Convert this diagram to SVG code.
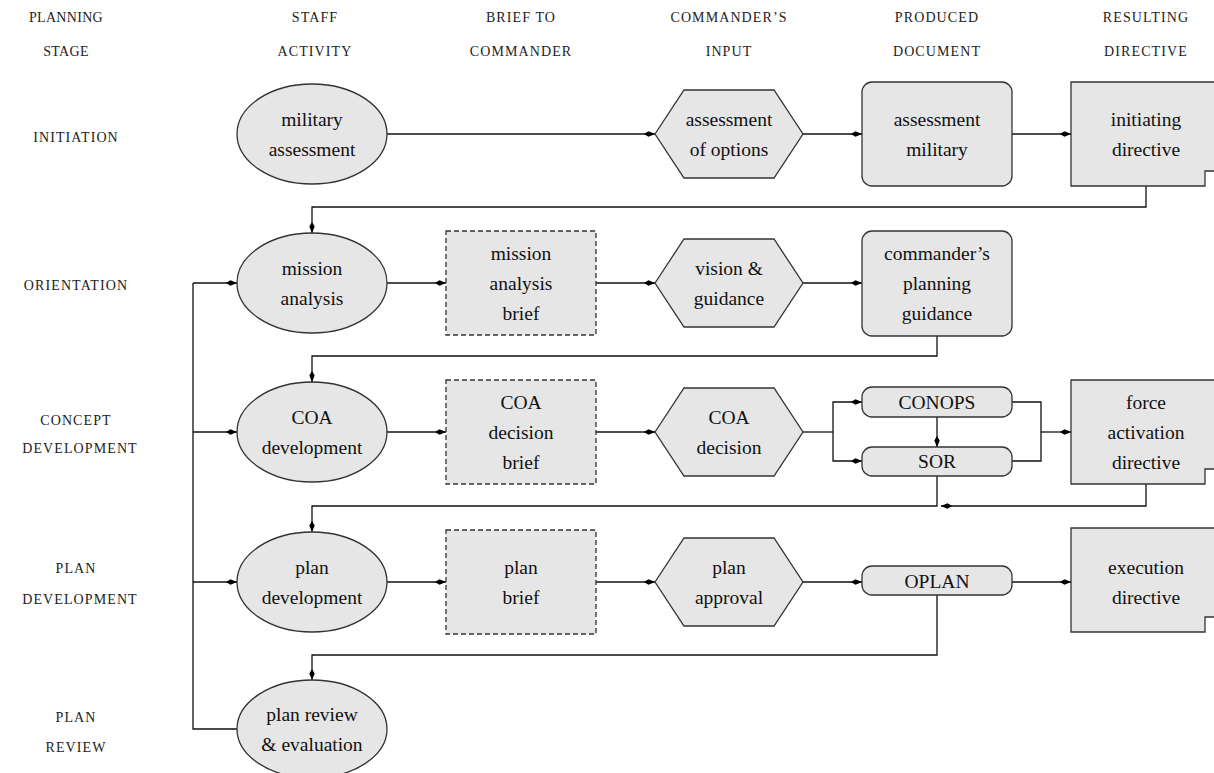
<svg xmlns="http://www.w3.org/2000/svg" width="1214" height="773" viewBox="0 0 1214 773">
  <defs>
    <marker id="dart" viewBox="0 0 11 7" refX="11" refY="3.5" markerWidth="11" markerHeight="7" markerUnits="userSpaceOnUse" orient="auto">
      <path d="M0,3.5 L4.5,0.8 L11,3.5 L4.5,6.2 Z" fill="#000"/>
    </marker>
    <style>
      .hdr { font-family: "Liberation Serif", "Times New Roman", serif; font-size: 14px; letter-spacing: 1.1px; fill: #222; text-anchor: middle; }
      .lbl { font-family: "Liberation Serif", "Times New Roman", serif; font-size: 19.5px; fill: #111; text-anchor: middle; }
      .node { fill: #e6e6e6; stroke: #333; stroke-width: 1.3; }
      .dash { stroke-dasharray: 5 3; }
      .wire { fill: none; stroke: #111; stroke-width: 1.3; }
      .arr { marker-end: url(#dart); }
    </style>
  </defs>
  <rect width="1214" height="773" fill="#fff"/>

  <!-- column headers -->
  <g id="headers">
    <text class="hdr" x="66" y="22" style="letter-spacing:0.3px">PLANNING</text>
    <text class="hdr" x="66" y="56" style="letter-spacing:0.3px">STAGE</text>
    <text class="hdr" x="315" y="22">STAFF</text>
    <text class="hdr" x="315" y="56">ACTIVITY</text>
    <text class="hdr" x="521" y="22">BRIEF TO</text>
    <text class="hdr" x="521" y="56">COMMANDER</text>
    <text class="hdr" x="729" y="22">COMMANDER’S</text>
    <text class="hdr" x="729" y="56">INPUT</text>
    <text class="hdr" x="937" y="22">PRODUCED</text>
    <text class="hdr" x="937" y="56">DOCUMENT</text>
    <text class="hdr" x="1146" y="22">RESULTING</text>
    <text class="hdr" x="1146" y="56">DIRECTIVE</text>
  </g>

  <!-- stage labels -->
  <g id="stages">
    <text class="hdr" x="76" y="142">INITIATION</text>
    <text class="hdr" x="76" y="290">ORIENTATION</text>
    <text class="hdr" x="76" y="425">CONCEPT</text>
    <text class="hdr" x="80" y="453">DEVELOPMENT</text>
    <text class="hdr" x="76" y="573">PLAN</text>
    <text class="hdr" x="80" y="604">DEVELOPMENT</text>
    <text class="hdr" x="76" y="722">PLAN</text>
    <text class="hdr" x="76" y="752">REVIEW</text>
  </g>

  <!-- connectors -->
  <g id="connectors" class="wire">
    <!-- initiation -->
    <path class="arr" d="M387,134 H655"/>
    <path class="arr" d="M803,134 H862"/>
    <path class="arr" d="M1012,134 H1071"/>
    <path class="arr" d="M1146,186 V207 H312 V233"/>
    <!-- orientation -->
    <path class="arr" d="M387,283 H446"/>
    <path class="arr" d="M596,283 H655"/>
    <path class="arr" d="M803,283 H862"/>
    <path class="arr" d="M937,336 V356 H312 V382"/>
    <!-- concept development -->
    <path class="arr" d="M387,432 H446"/>
    <path class="arr" d="M596,432 H655"/>
    <path d="M803,432 H833"/>
    <path class="arr" d="M833,432 V402 H862"/>
    <path class="arr" d="M833,432 V461 H862"/>
    <path class="arr" d="M937,417 V447"/>
    <path d="M1012,402 H1041 V461 H1012"/>
    <path class="arr" d="M1041,432 H1071"/>
    <path class="arr" d="M1146,484 V506 H941"/>
    <path class="arr" d="M937,476 V506 H312 V532"/>
    <!-- plan development -->
    <path class="arr" d="M387,582 H446"/>
    <path class="arr" d="M596,582 H655"/>
    <path class="arr" d="M803,582 H862"/>
    <path class="arr" d="M1012,582 H1071"/>
    <path class="arr" d="M937,595 V655 H312 V680"/>
    <!-- review feedback -->
    <path d="M237,729 H193 V283"/>
    <path class="arr" d="M193,283 H237"/>
    <path class="arr" d="M193,432 H237"/>
    <path class="arr" d="M193,582 H237"/>
  </g>

  <!-- initiation row -->
  <g id="military-assessment">
    <ellipse class="node" cx="312" cy="134" rx="75" ry="50"/>
    <text class="lbl" x="312" y="126">military</text>
    <text class="lbl" x="312" y="156">assessment</text>
  </g>
  <g id="assessment-of-options">
    <polygon class="node" points="655,134 684,90 774,90 803,134 774,178 684,178"/>
    <text class="lbl" x="729" y="126">assessment</text>
    <text class="lbl" x="729" y="156">of options</text>
  </g>
  <g id="assessment-military">
    <rect class="node" x="862" y="82" width="150" height="104" rx="10"/>
    <text class="lbl" x="937" y="126">assessment</text>
    <text class="lbl" x="937" y="156">military</text>
  </g>
  <g id="initiating-directive">
    <path class="node" d="M1071,82 H1230 V171 H1205 V186 H1071 Z"/>
    <text class="lbl" x="1146" y="126">initiating</text>
    <text class="lbl" x="1146" y="156">directive</text>
  </g>

  <!-- orientation row -->
  <g id="mission-analysis">
    <ellipse class="node" cx="312" cy="283" rx="75" ry="50"/>
    <text class="lbl" x="312" y="275">mission</text>
    <text class="lbl" x="312" y="305">analysis</text>
  </g>
  <g id="mission-analysis-brief">
    <rect class="node dash" x="446" y="231" width="150" height="104"/>
    <text class="lbl" x="521" y="260">mission</text>
    <text class="lbl" x="521" y="290">analysis</text>
    <text class="lbl" x="521" y="320">brief</text>
  </g>
  <g id="vision-guidance">
    <polygon class="node" points="655,283 684,239 774,239 803,283 774,327 684,327"/>
    <text class="lbl" x="729" y="275">vision &amp;</text>
    <text class="lbl" x="729" y="305">guidance</text>
  </g>
  <g id="planning-guidance">
    <rect class="node" x="862" y="231" width="150" height="105" rx="10"/>
    <text class="lbl" x="937" y="260">commander’s</text>
    <text class="lbl" x="937" y="290">planning</text>
    <text class="lbl" x="937" y="320">guidance</text>
  </g>

  <!-- concept development row -->
  <g id="coa-development">
    <ellipse class="node" cx="312" cy="432" rx="75" ry="50"/>
    <text class="lbl" x="312" y="424">COA</text>
    <text class="lbl" x="312" y="454">development</text>
  </g>
  <g id="coa-decision-brief">
    <rect class="node dash" x="446" y="380" width="150" height="104"/>
    <text class="lbl" x="521" y="409">COA</text>
    <text class="lbl" x="521" y="439">decision</text>
    <text class="lbl" x="521" y="469">brief</text>
  </g>
  <g id="coa-decision">
    <polygon class="node" points="655,432 684,388 774,388 803,432 774,476 684,476"/>
    <text class="lbl" x="729" y="424">COA</text>
    <text class="lbl" x="729" y="454">decision</text>
  </g>
  <g id="conops">
    <rect class="node" x="862" y="387" width="150" height="30" rx="10"/>
    <text class="lbl" x="937" y="409">CONOPS</text>
  </g>
  <g id="sor">
    <rect class="node" x="862" y="447" width="150" height="29" rx="10"/>
    <text class="lbl" x="937" y="468">SOR</text>
  </g>
  <g id="force-activation-directive">
    <path class="node" d="M1071,380 H1230 V469 H1205 V484 H1071 Z"/>
    <text class="lbl" x="1146" y="409">force</text>
    <text class="lbl" x="1146" y="439">activation</text>
    <text class="lbl" x="1146" y="469">directive</text>
  </g>

  <!-- plan development row -->
  <g id="plan-development">
    <ellipse class="node" cx="312" cy="582" rx="75" ry="50"/>
    <text class="lbl" x="312" y="574">plan</text>
    <text class="lbl" x="312" y="604">development</text>
  </g>
  <g id="plan-brief">
    <rect class="node dash" x="446" y="530" width="150" height="104"/>
    <text class="lbl" x="521" y="574">plan</text>
    <text class="lbl" x="521" y="604">brief</text>
  </g>
  <g id="plan-approval">
    <polygon class="node" points="655,582 684,538 774,538 803,582 774,626 684,626"/>
    <text class="lbl" x="729" y="574">plan</text>
    <text class="lbl" x="729" y="604">approval</text>
  </g>
  <g id="oplan">
    <rect class="node" x="862" y="566" width="150" height="29" rx="10"/>
    <text class="lbl" x="937" y="588">OPLAN</text>
  </g>
  <g id="execution-directive">
    <path class="node" d="M1071,528 H1230 V617 H1205 V632 H1071 Z"/>
    <text class="lbl" x="1146" y="574">execution</text>
    <text class="lbl" x="1146" y="604">directive</text>
  </g>

  <!-- plan review row -->
  <g id="plan-review">
    <ellipse class="node" cx="312" cy="729" rx="75" ry="49"/>
    <text class="lbl" x="312" y="721">plan review</text>
    <text class="lbl" x="312" y="751">&amp; evaluation</text>
  </g>
</svg>
